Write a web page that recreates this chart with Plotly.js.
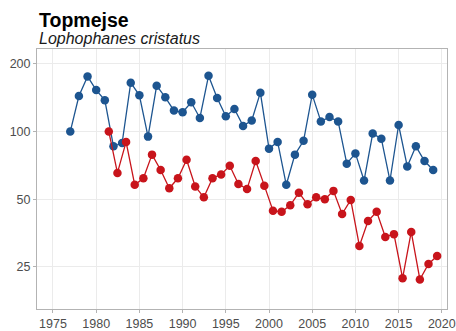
<!DOCTYPE html>
<html>
<head>
<meta charset="utf-8">
<script src="https://cdn.plot.ly/plotly-3.0.1.min.js"></script>
<style>html,body{margin:0;padding:0;background:#fff;}#chart{width:456px;height:331px;}</style>
</head>
<body>
<div id="chart"></div>
<script>
const titleText = "Topmejse";
const subtitleText = "Lophophanes cristatus";

const blueYears = [1977,1978,1979,1980,1981,1982,1983,1984,1985,1986,1987,1988,1989,1990,1991,1992,1993,1994,1995,1996,1997,1998,1999,2000,2001,2002,2003,2004,2005,2006,2007,2008,2009,2010,2011,2012,2013,2014,2015,2016,2017,2018,2019];
const blueValues = [100,144,176,153,138,86,89,165,145,95,160,142,124,122,135,115,177,141,117,126,106,112,149,84,90,58,79,91,146,111,116,111,72,80,60.6,98,93,60.6,107,70,86,74,67.5];

const redYears = [1981,1982,1983,1984,1985,1986,1987,1988,1989,1990,1991,1992,1993,1994,1995,1996,1997,1998,1999,2000,2001,2002,2003,2004,2005,2006,2007,2008,2009,2010,2011,2012,2013,2014,2015,2016,2017,2018,2019];
const redValues = [100,65.5,90,58,62,79,67.5,56,62,75,57,51,62,64.5,70.5,58.5,55.5,74,57.5,44.5,44,47,53.5,47.5,51,50,54.5,43,49.7,31,40,44,34,35,22.3,35.8,22,25.8,28];

const xTicks = [1975,1980,1985,1990,1995,2000,2005,2010,2015,2020];
const yTicks = [25,50,100,200];

const blueColor = "#1d5590";
const redColor = "#c8141b";
const redShift = 0.46;

const traces = [
  {x: blueYears, y: blueValues, type: "scatter", mode: "lines+markers",
   line: {color: blueColor, width: 1.3}, marker: {color: blueColor, size: 8.5}, hoverinfo: "x+y"},
  {x: redYears.map(v => v + redShift), y: redValues, type: "scatter", mode: "lines+markers",
   line: {color: redColor, width: 1.3}, marker: {color: redColor, size: 8.5}, hoverinfo: "x+y"}
];

const layout = {
  width: 456, height: 331,
  margin: {l: 37, r: 9, t: 49, b: 22, pad: 0},
  paper_bgcolor: "#ffffff", plot_bgcolor: "#ffffff",
  showlegend: false,
  font: {family: "Liberation Sans, Arial, sans-serif", color: "#4d4d4d", size: 12},
  xaxis: {
    range: [1973.15, 2020.6], tickvals: xTicks, ticktext: xTicks.map(String),
    showgrid: true, gridcolor: "#ebebeb", gridwidth: 1,
    showline: true, linecolor: "#b3b3b3", linewidth: 1, mirror: true,
    ticks: "outside", ticklen: 3, tickcolor: "#b3b3b3", tickwidth: 1,
    tickfont: {size: 12.5, color: "#4d4d4d"}, zeroline: false
  },
  yaxis: {
    type: "log", range: [Math.log10(16.26), Math.log10(233)],
    tickvals: yTicks, ticktext: yTicks.map(String),
    showgrid: true, gridcolor: "#ebebeb", gridwidth: 1,
    showline: true, linecolor: "#b3b3b3", linewidth: 1, mirror: true,
    ticks: "outside", ticklen: 3, tickcolor: "#b3b3b3", tickwidth: 1,
    tickfont: {size: 12.5, color: "#4d4d4d"}, zeroline: false
  },
  annotations: [
    {text: "<b>" + titleText + "</b>", xref: "paper", yref: "paper", x: 0, y: 1.113,
     xanchor: "left", yanchor: "middle", showarrow: false, xshift: 0,
     font: {size: 19.5, color: "#000000", family: "Liberation Sans, Arial, sans-serif"}},
    {text: "<i>" + subtitleText + "</i>", xref: "paper", yref: "paper", x: 0, y: 1.042,
     xanchor: "left", yanchor: "middle", showarrow: false, xshift: 0,
     font: {size: 16, color: "#1a1a1a", family: "Liberation Sans, Arial, sans-serif"}}
  ]
};

Plotly.newPlot("chart", traces, layout, {displayModeBar: false, staticPlot: true});
</script>
</body>
</html>
